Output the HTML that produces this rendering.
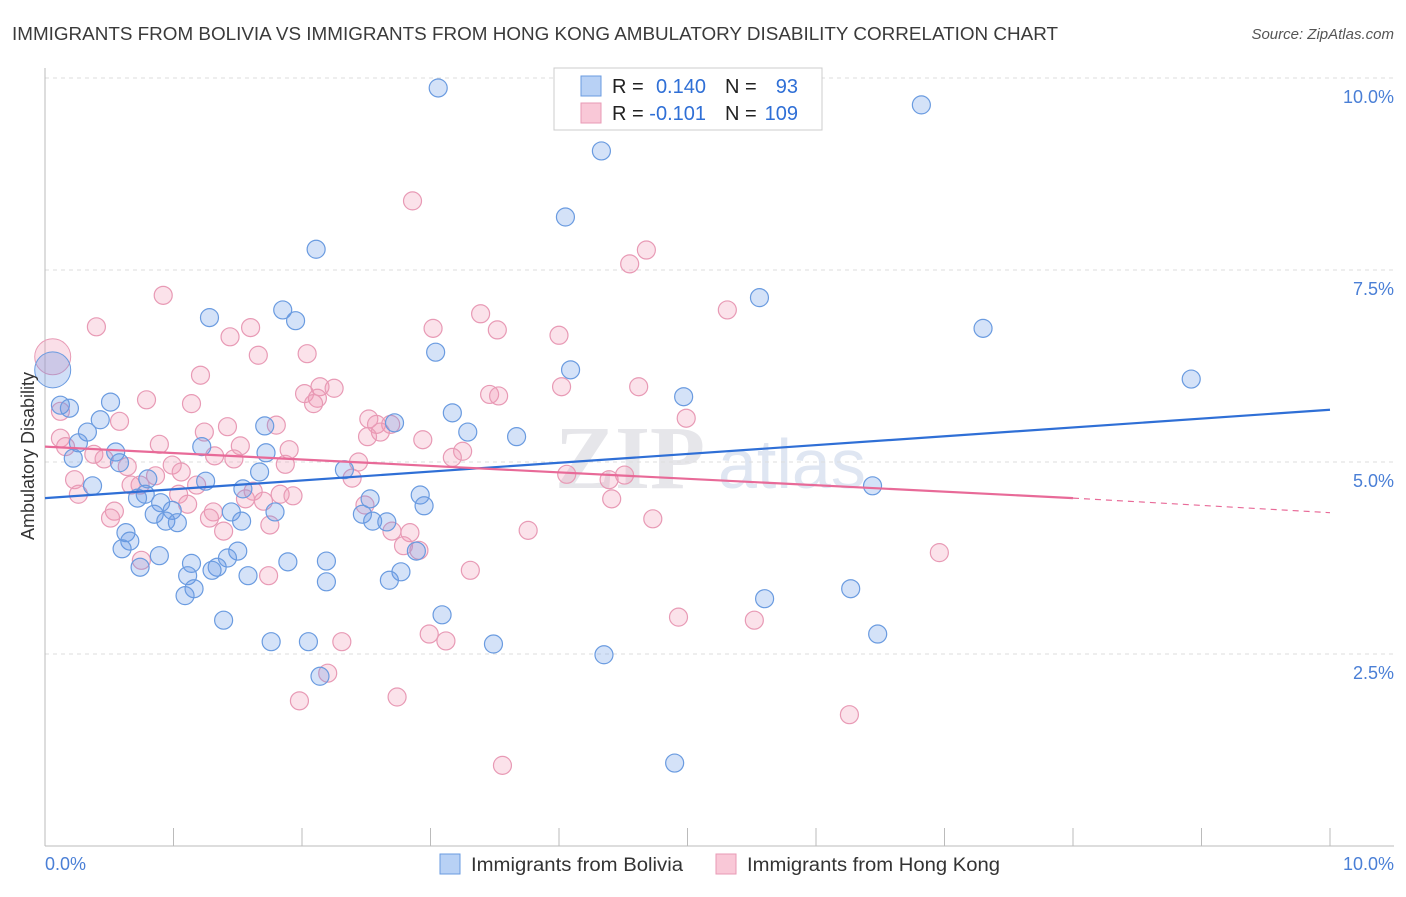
<!DOCTYPE html>
<html><head><meta charset="utf-8"><style>
body{margin:0;background:#fff;font-family:"Liberation Sans",sans-serif;}
</style></head><body>
<svg id="chart" width="1406" height="892" xmlns="http://www.w3.org/2000/svg" font-family="Liberation Sans, sans-serif">
<text x="12" y="40" font-size="18" fill="#3a3a3a" textLength="1046" lengthAdjust="spacingAndGlyphs">IMMIGRANTS FROM BOLIVIA VS IMMIGRANTS FROM HONG KONG AMBULATORY DISABILITY CORRELATION CHART</text>
<text x="1394" y="39" font-size="15" fill="#555" font-style="italic" text-anchor="end">Source: ZipAtlas.com</text>
<text x="555" y="488" font-size="90" fill="#e6e6ea" font-family="Liberation Serif, serif" font-weight="bold">ZIP</text>
<text x="718" y="488" font-size="70" fill="#dfe6f2">atlas</text>
<g id="grid"></g><g id="axes"></g><g id="pts"></g><g id="trend"></g>
<text transform="translate(34,456) rotate(-90)" font-size="18" fill="#333" text-anchor="middle">Ambulatory Disability</text>
<text x="45" y="870" font-size="18" fill="#4a7fd6">0.0%</text>
<text x="1394" y="870" font-size="18" fill="#4a7fd6" text-anchor="end">10.0%</text>
<g>
<rect x="554" y="68" width="268" height="62" fill="#fff" stroke="#ccc"/>
<rect x="581" y="76" width="20" height="20" fill="#b8d1f5" stroke="#6a9be0"/>
<rect x="581" y="103" width="20" height="20" fill="#f9c8d7" stroke="#e89ab5"/>
<text x="612" y="93" font-size="20" fill="#222">R =</text>
<text x="706" y="93" font-size="20" fill="#2f6fd6" text-anchor="end">0.140</text>
<text x="725" y="93" font-size="20" fill="#222">N =</text>
<text x="798" y="93" font-size="20" fill="#2f6fd6" text-anchor="end">93</text>
<text x="612" y="120" font-size="20" fill="#222">R =</text>
<text x="706" y="120" font-size="20" fill="#2f6fd6" text-anchor="end">-0.101</text>
<text x="725" y="120" font-size="20" fill="#222">N =</text>
<text x="798" y="120" font-size="20" fill="#2f6fd6" text-anchor="end">109</text>
</g>
<g>
<rect x="440" y="854" width="20" height="20" fill="#b8d1f5" stroke="#6a9be0"/>
<text x="471" y="871" font-size="19" fill="#333" textLength="212" lengthAdjust="spacingAndGlyphs">Immigrants from Bolivia</text>
<rect x="716" y="854" width="20" height="20" fill="#f9c8d7" stroke="#e89ab5"/>
<text x="747" y="871" font-size="19" fill="#333" textLength="253" lengthAdjust="spacingAndGlyphs">Immigrants from Hong Kong</text>
</g>
</svg>
<script>
const yTicks=[2.5,5,7.5,10];
const yTickLabels=["2.5%","5.0%","7.5%","10.0%"];
const xTicks=[0,1,2,3,4,5,6,7,8,9,10];
const blueX=[3.06,6.82,4.33,4.05,2.11,5.56,7.30,1.28,1.85,1.95,3.04,4.09,8.92,4.97,0.51,0.12,0.19,0.43,3.17,2.72,3.29,3.67,1.71,0.33,0.26,0.55,1.22,1.72,0.22,0.58,1.67,2.33,0.37,0.80,1.25,1.54,0.78,0.72,0.90,2.53,2.92,2.95,0.85,0.99,1.45,1.79,2.47,0.94,1.03,1.53,2.55,2.66,6.44,0.63,0.66,0.60,1.50,0.89,1.42,1.14,1.89,2.19,0.74,1.34,1.30,2.77,1.11,1.58,2.68,2.19,1.16,1.09,5.60,6.27,3.09,1.39,6.48,1.76,2.05,3.49,4.35,2.14,4.90,2.89];
const blueY=[9.87,9.65,9.05,8.19,7.77,7.14,6.74,6.88,6.98,6.84,6.43,6.20,6.08,5.85,5.78,5.74,5.70,5.55,5.64,5.51,5.39,5.33,5.47,5.39,5.25,5.13,5.20,5.12,5.05,4.99,4.87,4.90,4.69,4.78,4.75,4.65,4.58,4.53,4.47,4.52,4.57,4.43,4.32,4.37,4.35,4.35,4.32,4.23,4.21,4.23,4.23,4.22,4.69,4.08,3.97,3.87,3.84,3.78,3.75,3.68,3.70,3.71,3.63,3.63,3.59,3.57,3.52,3.52,3.46,3.44,3.35,3.26,3.22,3.35,3.01,2.94,2.76,2.66,2.66,2.63,2.49,2.21,1.08,3.84];
const pinkX=[2.86,4.68,4.55,0.92,3.39,5.31,0.40,1.60,3.02,3.52,4.00,1.44,1.66,2.04,1.21,4.02,4.62,2.14,2.25,2.02,2.12,2.09,3.46,3.53,0.79,1.14,0.12,0.58,2.52,2.58,2.69,1.80,1.42,4.99,1.24,2.61,2.51,0.12,2.94,0.89,1.52,0.16,1.90,3.25,0.38,0.46,1.32,1.47,3.17,1.87,0.64,2.44,0.99,1.06,0.86,4.06,4.51,2.39,4.39,0.23,0.67,0.74,1.04,1.18,1.62,1.83,1.93,0.26,1.56,4.41,1.70,1.11,2.49,0.54,1.31,0.51,1.28,4.73,1.75,2.70,2.84,3.76,1.39,2.79,2.91,0.75,6.96,3.31,1.74,4.93,5.52,2.99,3.12,2.31,2.20,2.74,1.98,6.26,3.56];
const pinkY=[8.40,7.76,7.58,7.17,6.93,6.98,6.76,6.75,6.74,6.72,6.65,6.63,6.39,6.41,6.13,5.98,5.98,5.98,5.96,5.89,5.83,5.76,5.88,5.86,5.81,5.76,5.66,5.53,5.56,5.49,5.49,5.48,5.46,5.57,5.39,5.39,5.33,5.31,5.29,5.23,5.21,5.20,5.16,5.14,5.10,5.04,5.08,5.04,5.06,4.97,4.94,5.00,4.96,4.87,4.82,4.84,4.83,4.79,4.77,4.77,4.70,4.70,4.58,4.70,4.62,4.58,4.56,4.58,4.52,4.52,4.49,4.45,4.44,4.36,4.35,4.27,4.27,4.26,4.18,4.10,4.08,4.11,4.10,3.91,3.85,3.72,3.82,3.59,3.52,2.98,2.94,2.76,2.67,2.66,2.25,1.94,1.89,1.71,1.05];
const bigX=[0.06,0.06];
const bigY=[6.20,6.37];
const blueTrendX=[0,10];
const blueTrendY=[4.53,5.68];
const pinkTrendX=[0,8,10];
const pinkTrendY=[5.20,4.53,4.34];
const NS="http://www.w3.org/2000/svg";
const sx=v=>45+v*128.5, sy=v=>846-v*76.8;
function mk(tag,attrs,parent){const e=document.createElementNS(NS,tag);for(const k in attrs)e.setAttribute(k,attrs[k]);parent.appendChild(e);return e;}
const grid=document.getElementById('grid'),axes=document.getElementById('axes'),pts=document.getElementById('pts'),tr=document.getElementById('trend');
yTicks.forEach((t,i)=>{
 const l=mk('line',{x1:45,x2:1394,y1:sy(t),y2:sy(t),stroke:'#ddd','stroke-dasharray':'4,4'},grid);
 
 
 const tx=mk('text',{x:1394,y:sy(t)+25,'font-size':18,fill:'#4a7fd6','text-anchor':'end'},grid);
 tx.textContent=yTickLabels[i];
 
 
});
const ya=mk('line',{x1:45,x2:45,y1:68,y2:846,stroke:'#bbb'},axes);


const xa=mk('line',{x1:45,x2:1394,y1:846,y2:846,stroke:'#bbb'},axes);


xTicks.forEach(t=>{
 const l=mk('line',{x1:sx(t),x2:sx(t),y1:828,y2:846,stroke:'#bbb'},axes);
 
 
});
function dots(X,Y,fill,stroke,name,r){X.forEach((x,i)=>{
 const c=mk('circle',{cx:sx(x),cy:sy(Y[i]),r:r,fill:fill,stroke:stroke,'stroke-width':1.2},pts);
 
 
});}
const big=mk('circle',{cx:sx(bigX[1]),cy:sy(bigY[1]),r:18,fill:'rgba(240,150,180,0.3)',stroke:'#e89ab5'},pts);


const big2=mk('circle',{cx:sx(bigX[0]),cy:sy(bigY[0]),r:18,fill:'rgba(100,150,230,0.3)',stroke:'#6a9be0'},pts);


dots(pinkX,pinkY,'rgba(240,150,180,0.28)','#e89ab5','hong-kong-point',9);
dots(blueX,blueY,'rgba(100,150,230,0.28)','#6a9be0','bolivia-point',9);
const bl=mk('line',{x1:sx(blueTrendX[0]),y1:sy(blueTrendY[0]),x2:sx(blueTrendX[1]),y2:sy(blueTrendY[1]),stroke:'#2f6fd6','stroke-width':2.2},tr);


const pl=mk('line',{x1:sx(pinkTrendX[0]),y1:sy(pinkTrendY[0]),x2:sx(pinkTrendX[1]),y2:sy(pinkTrendY[1]),stroke:'#e86a98','stroke-width':2.2},tr);


const pd=mk('line',{x1:sx(pinkTrendX[1]),y1:sy(pinkTrendY[1]),x2:sx(pinkTrendX[2]),y2:sy(pinkTrendY[2]),stroke:'#e86a98','stroke-width':1.2,'stroke-dasharray':'6,5'},tr);


</script>
</body></html>
